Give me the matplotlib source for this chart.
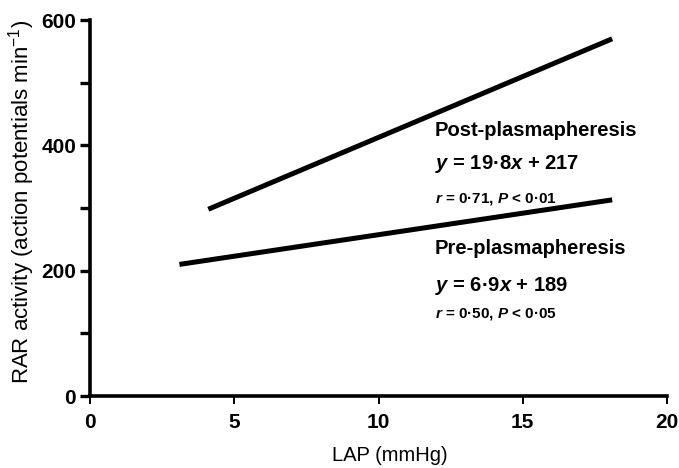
import matplotlib
matplotlib.use("Agg")
import matplotlib.pyplot as plt

# Data
post_x = [4.1, 18.1]
post_y = [298, 570]
pre_x = [3.1, 18.1]
pre_y = [210, 313]

x_ticks = [0, 5, 10, 15, 20]
y_major = [0, 200, 400, 600]
y_minor = [100, 300, 500]

post_label = "Post-plasmapheresis"
post_eq = r"$y$ = 19·8$x$ + 217"
post_stat = r"$r$ = 0·71, $P$ < 0·01"
pre_label = "Pre-plasmapheresis"
pre_eq = r"$y$ = 6·9$x$ + 189"
pre_stat = r"$r$ = 0·50, $P$ < 0·05"

plt.rcParams['font.family'] = ['Liberation Sans', 'DejaVu Sans']
plt.rcParams['mathtext.fontset'] = 'custom'
plt.rcParams['mathtext.rm'] = 'Liberation Sans'
plt.rcParams['mathtext.it'] = 'Liberation Sans:italic:bold'
plt.rcParams['mathtext.bf'] = 'Liberation Sans:bold'

fig = plt.figure(figsize=(6.79, 4.68), dpi=100)
ax = fig.add_axes([90/679, 1-396/468, (667-90)/679, (396-20)/468])

ax.plot(post_x, post_y, color='black', lw=3.6, solid_capstyle='butt')
ax.plot(pre_x, pre_y, color='black', lw=3.6, solid_capstyle='butt')

ax.set_xlim(0, 20)
ax.set_ylim(0, 600)
for s in ['top', 'right']:
    ax.spines[s].set_visible(False)
ax.spines['left'].set_linewidth(2.6)
ax.spines['bottom'].set_linewidth(2.6)

ax.set_xticks(x_ticks)
ax.set_xticklabels([str(v) for v in x_ticks])
ax.set_yticks(y_major)
ax.set_yticklabels([str(v) for v in y_major])
ax.set_yticks(y_minor, minor=True)
ax.tick_params(axis='y', which='both', direction='out', length=7, width=2.4, pad=3)
ax.tick_params(axis='x', which='major', direction='out', length=6, width=1.4, pad=6)
for lab in ax.get_xticklabels() + ax.get_yticklabels():
    lab.set_fontsize(15)
    lab.set_fontweight('bold')

fig.text(390/679, 1-461/468, "LAP (mmHg)", fontsize=14.5, ha='center', va='baseline')
fig.text(22/679, 1-202/468, r"RAR activity (action potentials min$^{\mathregular{-1}}$)",
         fontsize=16, rotation=90, ha='center', va='center')

def T(xp, yp, s, size):
    fig.text(xp/679, 1-yp/468, s, fontsize=size, fontweight='bold', ha='left', va='center')

T(435, 130, post_label, 14.5)
T(435, 164, post_eq, 14.5)
T(435, 199, post_stat, 11)
T(435, 248, pre_label, 14.5)
T(435, 286, pre_eq, 14.5)
T(435, 314, pre_stat, 11)

fig.savefig("out.png", dpi=100)
